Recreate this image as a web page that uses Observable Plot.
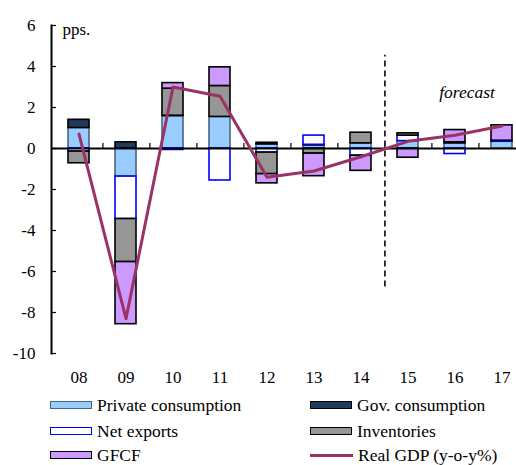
<!DOCTYPE html>
<html>
<head>
<meta charset="utf-8">
<script src="https://cdn.jsdelivr.net/npm/d3@7"></script>
<script src="https://cdn.jsdelivr.net/npm/@observablehq/plot@0.6"></script>
<style>
  body { margin: 0; background: #fff; }
  #wrap { position: relative; width: 516px; height: 465px; overflow: hidden; font-family: 'Liberation Serif', 'Times New Roman', serif; }
  #legend { position: absolute; left: 0; top: 390px; width: 516px; height: 75px; }
  .item { position: absolute; display: flex; align-items: center; font-size: 17.5px; line-height: 18px; color: #000; white-space: nowrap; }
  .sw { display: inline-block; width: 40px; height: 6px; margin-right: 5px; }
  .ln { display: inline-block; width: 43px; height: 3px; margin-right: 5px; }
</style>
</head>
<body>
<div id="wrap"><div id="chart"></div><div id="legend"></div></div>
<script>
const years = ["08","09","10","11","12","13","14","15","16","17"];
const seriesNames = ["Private consumption","Gov. consumption","Net exports","Inventories","GFCF"];
const privCons    = [1.0, -1.37, 1.58, 1.54, 0.2, 0.15, 0.25, 0.36, 0.25, 0.33];
const govCons     = [0.4, 0.3, 0.02, 0.0, 0.08, 0.03, 0.0, 0.0, 0.0, 0.0];
const netExports  = [-0.15, -2.07, -0.07, -1.56, -0.2, 0.45, -0.35, 0.27, -0.27, 0.05];
const inventories = [-0.57, -2.1, 1.32, 1.51, -1.05, -0.25, 0.52, 0.11, 0.05, 0.0];
const gfcf        = [0.0, -3.03, 0.27, 0.91, -0.45, -1.1, -0.74, -0.45, 0.6, 0.75];
const gdp         = [0.7, -8.3, 3.0, 2.55, -1.4, -1.1, -0.4, 0.35, 0.65, 1.1];
const gdpName = "Real GDP (y-o-y%)";
const yTicks = [-10, -8, -6, -4, -2, 0, 2, 4, 6];
const forecastYear = ["16"];
const forecastY = [2.75];
const lastActual = ["14"];
const dashRange = [-6.75, 4.55];

const fills   = {"Private consumption":"#99ccff","Gov. consumption":"#1f3a5c","Net exports":"#ffffff","Inventories":"#969696","GFCF":"#cc99ff"};
const strokes = {"Private consumption":"#4a6580","Gov. consumption":"#000000","Net exports":"#0000ff","Inventories":"#000000","GFCF":"#000000"};
const lineColor = "#993366";

const seriesValues = [privCons, govCons, netExports, inventories, gfcf];
const rows = [];
seriesNames.forEach((s, si) => {
  years.forEach((y, i) => {
    const v = seriesValues[si][i];
    if (v !== 0) rows.push({year: y, series: s, value: v});
  });
});
const gdpRows = years.map((y, i) => ({year: y, value: gdp[i]}));

const rangeX = [37.2, 542];
const pad = 0.56;
const step = (rangeX[1] - rangeX[0]) / (years.length + pad);
const half = step / 2;

const chart = Plot.plot({
  width: 516,
  height: 390,
  marginLeft: 51,
  marginRight: 0,
  marginTop: 25,
  marginBottom: 37,
  style: {fontFamily: "'Liberation Serif', 'Times New Roman', serif", fontSize: "17px", color: "#000", background: "#fff"},
  x: {type: "band", domain: years, range: rangeX, padding: pad, label: null},
  y: {domain: [-10, 6], label: null},
  marks: [
    Plot.barY(rows, Plot.stackY({
      x: "year", y: "value",
      fill: d => fills[d.series],
      stroke: d => strokes[d.series],
      strokeWidth: 1.6
    })),
    Plot.ruleY([0], {stroke: "#000", strokeWidth: 2}),
    Plot.ruleX(years, {x: d => d, dx: half, y1: 0, y2: 0.25, stroke: "#000", strokeWidth: 1.2}),
    Plot.ruleX(lastActual, {x: d => d, dx: half, y1: dashRange[0], y2: dashRange[1], stroke: "#222", strokeWidth: 1.8, strokeDasharray: "6,4"}),
    Plot.line(gdpRows, {x: "year", y: "value", stroke: lineColor, strokeWidth: 3}),
    Plot.frame({anchor: "left", stroke: "#000", strokeWidth: 2}),
    Plot.axisY({ticks: yTicks, tickSize: 0, tickPadding: 16, tickFormat: d => String(d)}),
    Plot.axisY({ticks: yTicks, tickSize: 5, dx: 5, tickFormat: () => "", strokeWidth: 1.2}),
    Plot.axisX({tickSize: 0, tickPadding: 17}),
    Plot.text(["pps."], {frameAnchor: "top-left", dx: 11, dy: -2.5, textAnchor: "start"}),
    Plot.text(forecastYear, {x: d => d, y: (d, i) => forecastY[i], dx: 12, text: () => "forecast", fontStyle: "italic", fontSize: 17.5})
  ]
});
document.getElementById("chart").appendChild(chart);

// legend
const legendItems = [
  {label: seriesNames[0], kind: "bar", left: 50, top: 15},
  {label: seriesNames[1], kind: "bar", left: 310, top: 15},
  {label: seriesNames[2], kind: "bar", left: 50, top: 41},
  {label: seriesNames[3], kind: "bar", left: 310, top: 41},
  {label: seriesNames[4], kind: "bar", left: 50, top: 65},
  {label: gdpName, kind: "line", left: 310, top: 65}
];
const legend = document.getElementById("legend");
legendItems.forEach(it => {
  const d = document.createElement("div");
  d.className = "item";
  d.style.left = it.left + "px";
  d.style.top = (it.top - 9) + "px";
  d.style.height = "18px";
  const sw = document.createElement("span");
  if (it.kind === "bar") {
    sw.className = "sw";
    sw.style.background = fills[it.label];
    sw.style.border = "1.5px solid " + strokes[it.label];
  } else {
    sw.className = "ln";
    sw.style.background = lineColor;
  }
  d.appendChild(sw);
  const t = document.createElement("span");
  t.textContent = it.label;
  d.appendChild(t);
  legend.appendChild(d);
});
</script>
</body>
</html>
